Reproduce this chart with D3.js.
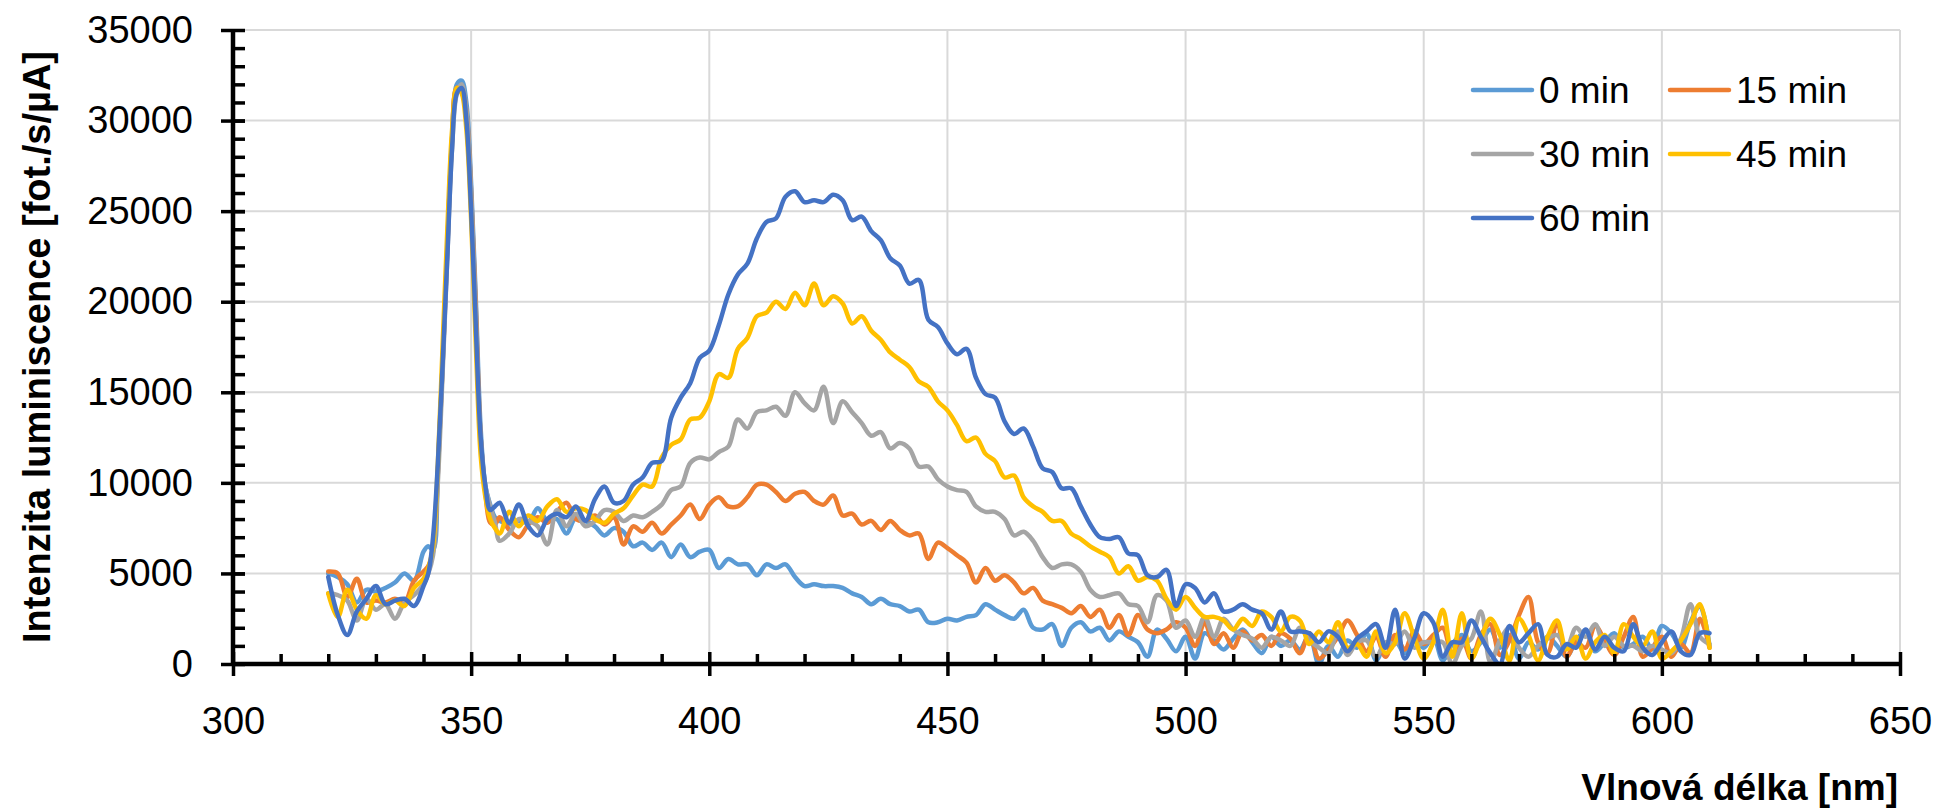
<!DOCTYPE html>
<html>
<head>
<meta charset="utf-8">
<script src="https://cdn.jsdelivr.net/npm/d3@7"></script>
<style>
  body { margin: 0; background: #fff; }
</style>
</head>
<body>
<div id="chart-area"></div>
<script>
// wavelengths [nm] - 2 nm steps, 1 nm around the 348 nm peak
var wavelength = [
  320, 322, 324, 326, 328, 330, 332, 334, 336, 338, 340,
  341, 342, 343, 344, 345, 346, 347, 348, 349, 350, 351, 352, 353, 354, 355, 356,
  358, 360, 362, 364, 366, 368, 370, 372, 374, 376,
  378, 380, 382, 384, 386, 388, 390, 392, 394, 396,
  398, 400, 402, 404, 406, 408, 410, 412, 414, 416,
  418, 420, 422, 424, 426, 428, 430, 432, 434, 436,
  438, 440, 442, 444, 446, 448, 450, 452, 454, 456,
  458, 460, 462, 464, 466, 468, 470, 472, 474, 476,
  478, 480, 482, 484, 486, 488, 490, 492, 494, 496,
  498, 500, 502, 504, 506, 508, 510, 512, 514, 516,
  518, 520, 522, 524, 526, 528, 530, 532, 534, 536,
  538, 540, 542, 544, 546, 548, 550, 552, 554, 556,
  558, 560, 562, 564, 566, 568, 570, 572, 574, 576,
  578, 580, 582, 584, 586, 588, 590, 592, 594, 596,
  598, 600, 602, 604, 606, 608, 610
];

var min0 = [
  5000, 4800, 4400, 3400, 4100, 4000, 4200, 4500, 5000, 4600, 6200,
  6500, 6300, 10500, 16500, 23000, 29000, 32000, 32200, 31000, 26500, 20000, 13000, 9800, 8800, 8100, 7900,
  7700, 7900, 7800, 8600, 7900, 8000, 7200, 8100, 7900, 7600,
  7100, 7500, 7300, 6500, 6700, 6300, 6700, 5900, 6600, 5900,
  6200, 6300, 5300, 5800, 5500, 5500, 4900, 5500, 5300, 5500,
  4800, 4300, 4400, 4300, 4300, 4200, 3900, 3700, 3300, 3600,
  3300, 3200, 2900, 3000, 2300, 2300, 2500, 2400, 2600, 2700,
  3300, 3000, 2700, 2500, 3000, 2000, 1900, 2200, 1000, 2000,
  2300, 1800, 2000, 1300, 1800, 1500, 1200, 400, 1900, 1400,
  700, 1500, 300, 1700, 1300, 800, 1400, 1900, 1200, 600,
  1500, 1000, 1300, 800, 1600, 0, 1000, 400, 1300, 900,
  1700, 200, 1100, 1300, 600, 1400, 900, 1500, 200, 1100,
  1600, 700, 1200, 1900, 900, 1600, 300, 1200, 800, 1500,
  1000, 400, 1300, 1800, 700, 1200, 1700, 900, 1100, 1500,
  800, 2100, 1700, 900, 2300, 3200, 1000
];

var min15 = [
  5100, 5000, 3700, 4700, 3400, 3500, 3400, 3600, 3400, 4600, 5100,
  5400, 6200, 10500, 16500, 23000, 29000, 31800, 31800, 30500, 26000, 19500, 12500, 9500, 7800, 7700, 8100,
  7400, 7000, 7700, 8100, 7800, 8400, 8900, 8000, 7900, 8200,
  7700, 8100, 6600, 7600, 7300, 7800, 7200, 7700, 8200, 8800,
  8000, 8800, 9200, 8700, 8700, 9200, 9900, 9900, 9500, 9000,
  9400, 9500, 9000, 8800, 9300, 8200, 8300, 7700, 7900, 7400,
  7900, 7400, 7100, 7200, 5800, 6700, 6400, 6000, 5600, 4500,
  5300, 4600, 4900, 4500, 3900, 4200, 3500, 3300, 3100, 2800,
  3200, 2600, 3000, 2000, 2700, 1600, 2700, 1900, 1700, 1900,
  2300, 2000, 1000, 2300, 1100, 1700, 900, 1800, 1300, 1600,
  1000, 1700, 1400, 600, 1700, 300, 800, 1500, 2400, 1600,
  700, 1500, 400, 1600, 800, 1800, 1100, 1600, 2000, 500,
  1400, 300, 1600, 2200, 500, 1300, 2700, 3700, 1200, 600,
  2300, 400, 1200, 900, 2100, 1300, 500, 1500, 2600, 400,
  900, 1500, 400, 1100, 600, 2500, 900
];

var min30 = [
  3900, 3800, 3500, 2400, 3600, 3000, 3300, 2500, 3400, 3800, 4400,
  5000, 6000, 10000, 16000, 22500, 28500, 31500, 32000, 30500, 26000, 19000, 12500, 9800, 8700, 7800, 6800,
  7200, 8000, 7900, 7600, 6600, 8500, 7600, 8300, 7600, 7900,
  8500, 8400, 7900, 8200, 8100, 8400, 8800, 9600, 9800, 11100,
  11400, 11300, 11700, 12000, 13500, 13000, 13900, 14000, 14200, 13700,
  15000, 14400, 14000, 15300, 13300, 14500, 13900, 13300, 12600, 12800,
  11900, 12200, 11900, 10900, 10900, 10200, 9800, 9600, 9500, 8700,
  8400, 8400, 8000, 7100, 7300, 6800, 5900, 5300, 5500, 5500,
  5100, 4100, 3700, 3800, 3900, 3300, 3200, 2300, 3800, 3500,
  2000, 2400, 1500, 2600, 1500, 2500, 1900, 1600, 1400, 900,
  1500, 1300, 1000, 2000, 1300, 900, 600, 1800, 500, 1200,
  1300, 400, 1200, 1100, 1800, 900, 1200, 1200, 1200, 0,
  1000, 1400, 2900, 100, 1300, 2000, 900, 400, 1000, 1400,
  1600, 900, 2000, 1500, 2200, 1000, 1500, 1000, 1000, 700,
  1000, 800, 600, 1400, 3300, 1500, 1100
];

var min45 = [
  3900, 2600, 4100, 3000, 2500, 3800, 3300, 3500, 3200, 4200, 4700,
  5300, 6500, 11000, 17500, 24000, 29500, 31800, 31500, 29500, 24500, 17500, 11500, 9200, 8000, 7500, 7200,
  8400, 7600, 8200, 7900, 8700, 9100, 8400, 8600, 8500, 8000,
  7800, 8300, 8600, 9300, 9900, 9800, 11400, 12100, 12400, 13500,
  13600, 14500, 16000, 15800, 17400, 18000, 19200, 19400, 20000, 19600,
  20500, 19800, 21000, 19800, 20300, 19900, 18800, 19200, 18400, 17900,
  17200, 16800, 16400, 15600, 15300, 14500, 14000, 13200, 12300, 12500,
  11600, 11200, 10300, 10400, 9200, 8700, 8400, 7900, 7900, 7200,
  6900, 6500, 6200, 5900, 5000, 5400, 4600, 4800, 4600, 3600,
  3000, 3700, 3100, 2600, 2600, 2400, 1900, 2500, 2100, 2900,
  2600, 1800, 2600, 2400, 1100, 1800, 1200, 2300, 900, 1100,
  400, 1800, 600, 1200, 2800, 1500, 300, 1200, 3000, 400,
  2800, 300, 1400, 2500, 1600, 200, 2500, 1600, 200, 1500,
  2400, 800, 1500, 300, 1200, 1600, 600, 2200, 1500, 1000,
  1800, 300, 700, 1300, 2200, 3300, 900
];

var min60 = [
  4800, 2700, 1600, 2900, 3600, 4300, 3300, 3500, 3600, 3200, 4300,
  5000, 7000, 11000, 16500, 22500, 28500, 31500, 31800, 30000, 25000, 18500, 12500, 9800, 8500, 8700, 8900,
  7800, 8800, 7600, 7100, 8000, 8300, 8100, 8700, 7900, 9100,
  9800, 8900, 9000, 9900, 10300, 11100, 11200, 13600, 14700, 15500,
  16900, 17300, 18700, 20400, 21500, 22100, 23500, 24400, 24600, 25800,
  26100, 25500, 25600, 25500, 25900, 25600, 24500, 24700, 23900, 23400,
  22400, 22000, 21000, 21200, 19000, 18600, 17700, 17100, 17400, 15800,
  14900, 14700, 13400, 12700, 13000, 12000, 10800, 10600, 9700, 9700,
  8700, 7700, 7000, 6900, 7000, 6100, 6000, 4900, 4800, 5200,
  3200, 4400, 4200, 3400, 3900, 2900, 3000, 3300, 3000, 2800,
  1900, 2900, 1800, 1800, 1700, 1200, 1800, 1500, 700, 1400,
  1800, 2200, 900, 3000, 300, 1400, 2800, 2300, 400, 1200,
  1200, 2400, 1500, 600, 0, 2100, 1200, 1700, 2200, 500,
  400, 1100, 900, 1900, 800, 1500, 900, 700, 2200, 900,
  500, 1200, 1800, 700, 500, 1700, 1700
];

var seriesNames = ["0 min", "15 min", "30 min", "45 min", "60 min"];
var seriesValues = [min0, min15, min30, min45, min60];
var seriesColors = ["#5B9BD5", "#ED7D31", "#A5A5A5", "#FFC000", "#4472C4"];

var xTicks = [300, 350, 400, 450, 500, 550, 600, 650];
var xMinorTicks = [310, 320, 330, 340, 360, 370, 380, 390, 410, 420, 430, 440, 460, 470, 480, 490,
  510, 520, 530, 540, 560, 570, 580, 590, 610, 620, 630, 640];
var yTicks = [0, 5000, 10000, 15000, 20000, 25000, 30000, 35000];
var yMinorTicks = d3.range(1000, 35000, 1000);

var W = 1936, H = 810;
var margin = { left: 233, right: 36, top: 30, bottom: 146 };
var iw = W - margin.left - margin.right;
var ih = H - margin.top - margin.bottom;
var font = "'Liberation Sans', Arial, sans-serif";

var svg = d3.select("#chart-area")
  .append("svg")
  .attr("width", W)
  .attr("height", H)
  .style("display", "block");

svg.append("rect").attr("width", W).attr("height", H).attr("fill", "#fff");

var g = svg.append("g")
  .attr("transform", "translate(" + margin.left + "," + margin.top + ")");

var x = d3.scaleLinear().domain([300, 650]).range([0, iw]);
var y = d3.scaleLinear().domain([0, 35000]).range([ih, 0]);

// gridlines
g.append("g").selectAll("line")
  .data(yTicks.slice(1))
  .enter().append("line")
  .attr("x1", 0).attr("x2", iw)
  .attr("y1", function(d){ return y(d); })
  .attr("y2", function(d){ return y(d); })
  .attr("stroke", "#d9d9d9").attr("stroke-width", 2);

g.append("g").selectAll("line")
  .data(xTicks.slice(1))
  .enter().append("line")
  .attr("y1", 0).attr("y2", ih)
  .attr("x1", function(d){ return x(d); })
  .attr("x2", function(d){ return x(d); })
  .attr("stroke", "#d9d9d9").attr("stroke-width", 2);

// series
g.append("clipPath").attr("id", "plot-clip")
  .append("rect").attr("x", 0).attr("y", 0).attr("width", iw).attr("height", ih);

var line = d3.line()
  .x(function(d){ return x(d[0]); })
  .y(function(d){ return y(d[1]); })
  .curve(d3.curveCatmullRom.alpha(0.5));

var lines = g.append("g").attr("clip-path", "url(#plot-clip)");
seriesValues.forEach(function(vals, i){
  lines.append("path")
    .datum(wavelength.map(function(w, j){ return [w, vals[j]]; }))
    .attr("d", line)
    .attr("fill", "none")
    .attr("stroke", seriesColors[i])
    .attr("stroke-width", 4.5)
    .attr("stroke-linejoin", "round")
    .attr("stroke-linecap", "round");
});

// axes
function styleAxis(sel){
  sel.select(".domain").remove();
  sel.selectAll(".tick line").attr("stroke", "#000").attr("stroke-width", 3.5);
  sel.selectAll("text").attr("fill", "#000")
    .style("font-family", font).style("font-size", "38px");
}

var xMinorGroup = g.append("g")
  .attr("transform", "translate(0," + ih + ")")
  .call(d3.axisBottom(x).tickValues(xMinorTicks).tickSize(-10).tickFormat(""));
styleAxis(xMinorGroup);

var xInnerGroup = g.append("g")
  .attr("transform", "translate(0," + ih + ")")
  .call(d3.axisBottom(x).tickValues(xTicks).tickSize(-12).tickFormat(""));
styleAxis(xInnerGroup);

var xAxisGroup = g.append("g")
  .attr("transform", "translate(0," + ih + ")")
  .call(d3.axisBottom(x).tickValues(xTicks).tickSize(12).tickPadding(31)
    .tickFormat(d3.format("d")));
styleAxis(xAxisGroup);

var yMinorGroup = g.append("g")
  .call(d3.axisLeft(y).tickValues(yMinorTicks).tickSize(-12).tickFormat(""));
styleAxis(yMinorGroup);

var yInnerGroup = g.append("g")
  .call(d3.axisLeft(y).tickValues(yTicks).tickSize(-12).tickFormat(""));
styleAxis(yInnerGroup);

var yAxisGroup = g.append("g")
  .call(d3.axisLeft(y).tickValues(yTicks).tickSize(12).tickPadding(28)
    .tickFormat(d3.format("d")));
styleAxis(yAxisGroup);

g.append("line")
  .attr("x1", 0).attr("x2", iw).attr("y1", ih).attr("y2", ih)
  .attr("stroke", "#000").attr("stroke-width", 4.5);
g.append("line")
  .attr("x1", 0).attr("x2", 0).attr("y1", 0).attr("y2", ih)
  .attr("stroke", "#000").attr("stroke-width", 4.5);

// axis titles
svg.append("text")
  .attr("transform", "translate(50," + (margin.top + ih / 2) + ") rotate(-90)")
  .attr("text-anchor", "middle")
  .style("font-family", font).style("font-size", "38px").style("font-weight", "bold")
  .text("Intenzita luminiscence [fot./s/µA]");

svg.append("text")
  .attr("x", 1898).attr("y", 800)
  .attr("text-anchor", "end")
  .style("font-family", font).style("font-size", "37px").style("font-weight", "bold")
  .text("Vlnová délka [nm]");

// legend
var legendCols = [1473, 1670];
var legendRows = [90, 154, 218];
seriesNames.forEach(function(name, i){
  var lx = legendCols[i % 2];
  var ly = legendRows[Math.floor(i / 2)];
  svg.append("line")
    .attr("x1", lx).attr("x2", lx + 59).attr("y1", ly).attr("y2", ly)
    .attr("stroke", seriesColors[i]).attr("stroke-width", 4.5)
    .attr("stroke-linecap", "round");
  svg.append("text")
    .attr("x", lx + 66).attr("y", ly + 13)
    .style("font-family", font).style("font-size", "37px")
    .attr("fill", "#000")
    .text(name);
});
</script>
</body>
</html>
